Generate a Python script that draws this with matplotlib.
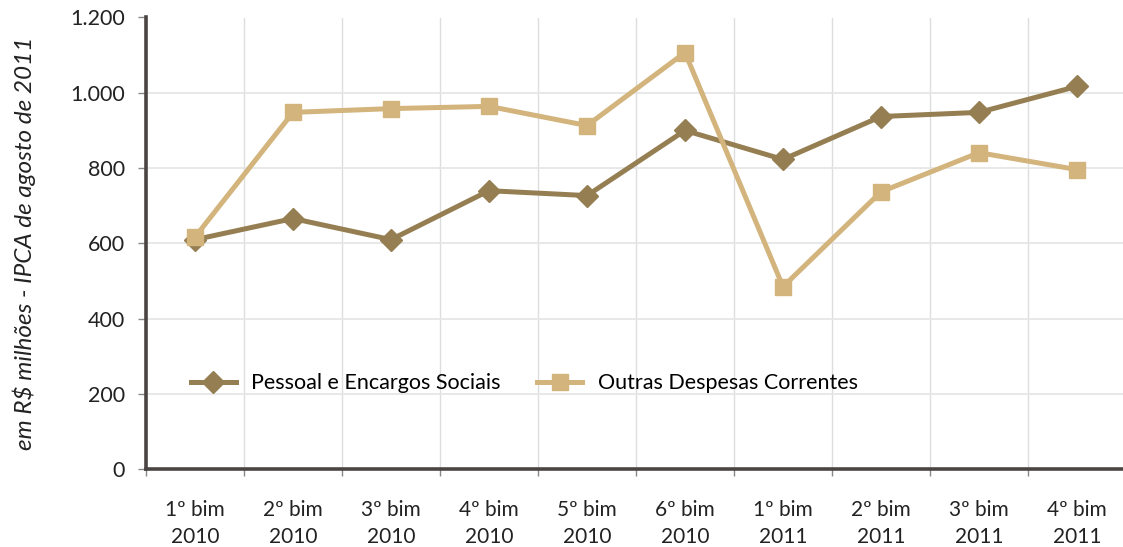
import matplotlib
matplotlib.use("Agg")
import matplotlib.pyplot as plt
import numpy as np

# Despesas bimestrais (R$ milhões, IPCA de agosto de 2011)
periods = ["1º bim\n2010", "2º bim\n2010", "3º bim\n2010", "4º bim\n2010", "5º bim\n2010",
           "6º bim\n2010", "1º bim\n2011", "2º bim\n2011", "3º bim\n2011", "4º bim\n2011"]
pessoal = [610, 666, 610, 740, 727, 900, 823, 937, 948, 1017]
outras = [617, 948, 958, 964, 913, 1107, 485, 737, 841, 796]
series_names = ["Pessoal e Encargos Sociais", "Outras Despesas Correntes"]
yticks = [0, 200, 400, 600, 800, 1000, 1200]
ytick_labels = ["0", "200", "400", "600", "800", "1.000", "1.200"]

plt.rcParams["font.family"] = ["Lato", "DejaVu Sans"]

fig = plt.figure(figsize=(11.23, 5.47), dpi=100)
ax = fig.add_axes([146 / 1123, 1 - 469.3 / 547, 980 / 1123, (469.3 - 17.5) / 547])

x = np.arange(len(periods))
c_pes = "#957f52"
c_out = "#d2b47c"
ax.plot(x, pessoal, color=c_pes, lw=3.6, marker="D", markersize=11,
        label=series_names[0], zorder=3)
ax.plot(x, outras, color=c_out, lw=3.6, marker="s", markersize=11.5,
        label=series_names[1], zorder=4)

ax.set_xlim(-0.5, len(periods) - 0.5)
ax.set_ylim(0, 1200)
ax.set_yticks(yticks)
ax.set_yticklabels(ytick_labels, fontsize=15.5, color="#222222")
ax.set_xticks(x)
ax.set_xticklabels(periods, fontsize=15, color="#222222", linespacing=1.45)
ax.set_xticks(np.arange(-0.5, len(periods)), minor=True)
ax.tick_params(axis="x", which="major", length=0, pad=22)
ax.tick_params(axis="x", which="minor", length=5, width=1, color="#888888", direction="out")
ax.tick_params(axis="y", which="major", length=6, width=1, color="#888888", pad=9)

ax.grid(True, axis="y", which="major", color="#e6e6e6", lw=1.3)
ax.grid(True, axis="x", which="minor", color="#dddddd", lw=1.0)
ax.set_axisbelow(True)

for s in ["top", "right"]:
    ax.spines[s].set_visible(False)
for s in ["left", "bottom"]:
    ax.spines[s].set_color("#4a4542")
    ax.spines[s].set_linewidth(2.6)

ax.set_ylabel("em R$ milhões - IPCA de agosto de 2011", fontsize=17.5, style="italic",
              color="#222222")
ax.yaxis.set_label_coords(-0.112, 0.5)

ax.legend(loc="center left", bbox_to_anchor=(0.026, 0.19), ncol=2, frameon=False,
          fontsize=15.5, handlelength=2.1, columnspacing=1.7, handletextpad=0.7)

fig.savefig("out.png", dpi=100)
